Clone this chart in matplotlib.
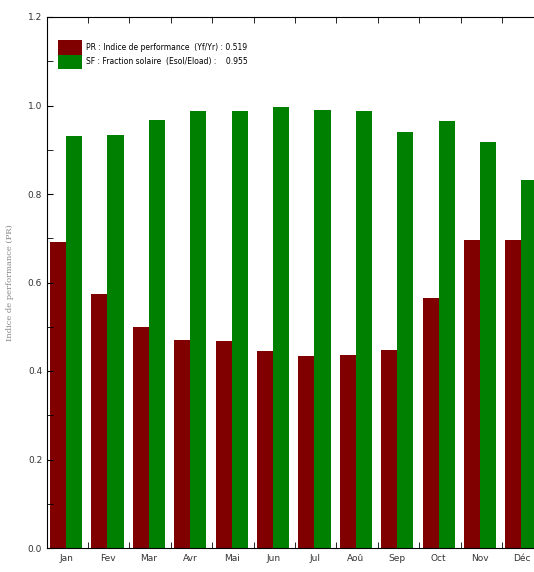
import numpy as np
from matplotlib import pyplot as plt

months = ['Jan', 'Fev', 'Mar', 'Avr', 'Mai', 'Jun', 'Jul', 'Aoû', 'Sep', 'Oct', 'Nov', 'Déc']
pr = [0.692, 0.573, 0.500, 0.470, 0.468, 0.446, 0.433, 0.437, 0.448, 0.566, 0.697, 0.697]
sf = [0.930, 0.934, 0.968, 0.988, 0.988, 0.997, 0.990, 0.988, 0.940, 0.966, 0.918, 0.832]
pr_label = 'PR : Indice de performance  (Yf/Yr) : 0.519'
sf_label = 'SF : Fraction solaire  (Esol/Eload) :    0.955'

x = np.arange(len(months))
w = 0.39

# axes runs past the right edge of the figure, like the cropped original
fig = plt.figure(figsize=(5.34, 5.72), dpi=100)
ax = fig.add_axes([47/534, 24/572, 513/534, 531/572])

ax.bar(x - w/2, pr, w, color='#800000', label=pr_label)
ax.bar(x + w/2, sf, w, color='#008000', label=sf_label)

ax.set_xlim(-0.46, 11.93)
ax.set_ylim(0, 1.2)
ax.set_xticks(x + 0.53, minor=True)
ax.set_xticks(x)
ax.set_xticklabels(months, fontsize=6.5, color='#333333')
ax.tick_params(axis='x', which='major', length=0, pad=4)
ax.tick_params(axis='x', which='minor', direction='in', length=4, top=True, bottom=True)
ax.set_yticks(np.arange(0, 1.21, 0.2))
ax.set_yticklabels(['%.1f' % v for v in np.arange(0, 1.21, 0.2)], fontsize=6.5, color='#333333')
ax.set_yticks(np.arange(0.1, 1.2, 0.2), minor=True)
ax.tick_params(axis='y', which='both', direction='in', length=4)

ax.set_ylabel('Indice de performance (PR)', fontsize=6, family='serif', color='#888888', labelpad=10)

ax.legend(loc='upper left', bbox_to_anchor=(0.014, 0.964), frameon=False, fontsize=5.5,
          handlelength=3.2, handleheight=2.6, labelspacing=0, handletextpad=0.5, borderpad=0)

plt.savefig('out.png')
